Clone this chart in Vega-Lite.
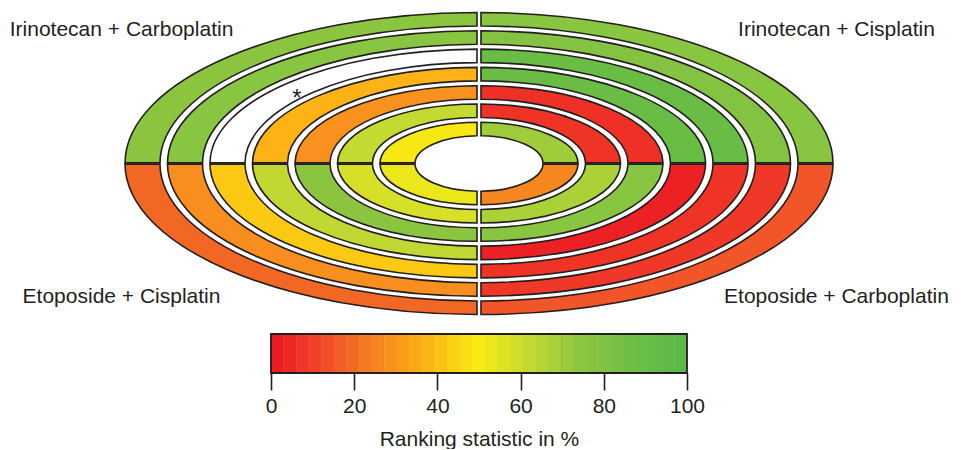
{
  "$schema": "https://vega.github.io/schema/vega-lite/v6.json",
  "padding": 0,
  "background": "white",
  "config": {"view": {"stroke": null}, "font": "Liberation Sans"},
  "datasets": {
    "seg": [
      {"regimen": "Irinotecan + Carboplatin", "ring": 1, "rank": 76},
      {"regimen": "Irinotecan + Carboplatin", "ring": 2, "rank": 77},
      {"regimen": "Irinotecan + Carboplatin", "ring": 3, "rank": null, "note": "*"},
      {"regimen": "Irinotecan + Carboplatin", "ring": 4, "rank": 37},
      {"regimen": "Irinotecan + Carboplatin", "ring": 5, "rank": 28},
      {"regimen": "Irinotecan + Carboplatin", "ring": 6, "rank": 62},
      {"regimen": "Irinotecan + Carboplatin", "ring": 7, "rank": 49},
      {"regimen": "Irinotecan + Cisplatin", "ring": 1, "rank": 77},
      {"regimen": "Irinotecan + Cisplatin", "ring": 2, "rank": 79},
      {"regimen": "Irinotecan + Cisplatin", "ring": 3, "rank": 91},
      {"regimen": "Irinotecan + Cisplatin", "ring": 4, "rank": 91},
      {"regimen": "Irinotecan + Cisplatin", "ring": 5, "rank": 5},
      {"regimen": "Irinotecan + Cisplatin", "ring": 6, "rank": 6},
      {"regimen": "Irinotecan + Cisplatin", "ring": 7, "rank": 71},
      {"regimen": "Etoposide + Cisplatin", "ring": 1, "rank": 18},
      {"regimen": "Etoposide + Cisplatin", "ring": 2, "rank": 27},
      {"regimen": "Etoposide + Cisplatin", "ring": 3, "rank": 42},
      {"regimen": "Etoposide + Cisplatin", "ring": 4, "rank": 63},
      {"regimen": "Etoposide + Cisplatin", "ring": 5, "rank": 76},
      {"regimen": "Etoposide + Cisplatin", "ring": 6, "rank": 58},
      {"regimen": "Etoposide + Cisplatin", "ring": 7, "rank": 53},
      {"regimen": "Etoposide + Carboplatin", "ring": 1, "rank": 14},
      {"regimen": "Etoposide + Carboplatin", "ring": 2, "rank": 7},
      {"regimen": "Etoposide + Carboplatin", "ring": 3, "rank": 6},
      {"regimen": "Etoposide + Carboplatin", "ring": 4, "rank": 1},
      {"regimen": "Etoposide + Carboplatin", "ring": 5, "rank": 77},
      {"regimen": "Etoposide + Carboplatin", "ring": 6, "rank": 68},
      {"regimen": "Etoposide + Carboplatin", "ring": 7, "rank": 25}
    ],
    "regimens": [
      {"regimen": "Irinotecan + Carboplatin", "side": "left", "half": "top"},
      {"regimen": "Irinotecan + Cisplatin", "side": "right", "half": "top"},
      {"regimen": "Etoposide + Cisplatin", "side": "left", "half": "bottom"},
      {"regimen": "Etoposide + Carboplatin", "side": "right", "half": "bottom"}
    ],
    "bands": [
      {"lo": 0, "hi": 3.0303, "v": 0},
      {"lo": 3.0303, "hi": 6.0606, "v": 3.125},
      {"lo": 6.0606, "hi": 9.0909, "v": 6.25},
      {"lo": 9.0909, "hi": 12.1212, "v": 9.375},
      {"lo": 12.1212, "hi": 15.1515, "v": 12.5},
      {"lo": 15.1515, "hi": 18.1818, "v": 15.625},
      {"lo": 18.1818, "hi": 21.2121, "v": 18.75},
      {"lo": 21.2121, "hi": 24.2424, "v": 21.875},
      {"lo": 24.2424, "hi": 27.2727, "v": 25},
      {"lo": 27.2727, "hi": 30.303, "v": 28.125},
      {"lo": 30.303, "hi": 33.3333, "v": 31.25},
      {"lo": 33.3333, "hi": 36.3636, "v": 34.375},
      {"lo": 36.3636, "hi": 39.3939, "v": 37.5},
      {"lo": 39.3939, "hi": 42.4242, "v": 40.625},
      {"lo": 42.4242, "hi": 45.4545, "v": 43.75},
      {"lo": 45.4545, "hi": 48.4848, "v": 46.875},
      {"lo": 48.4848, "hi": 51.5152, "v": 50},
      {"lo": 51.5152, "hi": 54.5455, "v": 53.125},
      {"lo": 54.5455, "hi": 57.5758, "v": 56.25},
      {"lo": 57.5758, "hi": 60.6061, "v": 59.375},
      {"lo": 60.6061, "hi": 63.6364, "v": 62.5},
      {"lo": 63.6364, "hi": 66.6667, "v": 65.625},
      {"lo": 66.6667, "hi": 69.697, "v": 68.75},
      {"lo": 69.697, "hi": 72.7273, "v": 71.875},
      {"lo": 72.7273, "hi": 75.7576, "v": 75},
      {"lo": 75.7576, "hi": 78.7879, "v": 78.125},
      {"lo": 78.7879, "hi": 81.8182, "v": 81.25},
      {"lo": 81.8182, "hi": 84.8485, "v": 84.375},
      {"lo": 84.8485, "hi": 87.8788, "v": 87.5},
      {"lo": 87.8788, "hi": 90.9091, "v": 90.625},
      {"lo": 90.9091, "hi": 93.9394, "v": 93.75},
      {"lo": 93.9394, "hi": 96.9697, "v": 96.875},
      {"lo": 96.9697, "hi": 100, "v": 100}
    ]
  },
  "vconcat": [
    {
      "width": 958,
      "height": 327,
      "data": {"name": "seg"},
      "layer": [
        {
          "transform": [{"filter": "datum.regimen === 'Irinotecan + Carboplatin' && isValid(datum.rank)"}],
          "mark": {"type": "point", "filled": true, "size": 4, "opacity": 1, "stroke": "#231F20", "strokeWidth": 1.6},
          "encoding": {
            "shape": {"field": "ring", "type": "nominal", "legend": null, "scale": {"domain": [1, 2, 3, 4, 5, 6, 7], "range": [
              "M-319,-0.6 L-354,-0.6 A354,151 0 0 1 -2,-151 L-2,-137.5 A319,137.5 0 0 0 -319,-0.6 Z",
              "M-276.5,-0.6 L-311.5,-0.6 A311.5,132.7 0 0 1 -2,-132.7 L-2,-119.2 A276.5,119.2 0 0 0 -276.5,-0.6 Z",
              "M-234,-0.6 L-269,-0.6 A269,114.4 0 0 1 -2,-114.4 L-2,-100.9 A234,100.9 0 0 0 -234,-0.6 Z",
              "M-191.5,-0.6 L-226.5,-0.6 A226.5,96.1 0 0 1 -2,-96.1 L-2,-82.6 A191.5,82.6 0 0 0 -191.5,-0.6 Z",
              "M-149,-0.6 L-184,-0.6 A184,77.8 0 0 1 -2,-77.8 L-2,-64.3 A149,64.3 0 0 0 -149,-0.6 Z",
              "M-106.5,-0.6 L-141.5,-0.6 A141.5,59.5 0 0 1 -2,-59.5 L-2,-46 A106.5,46 0 0 0 -106.5,-0.6 Z",
              "M-64,-0.6 L-99,-0.6 A99,41.2 0 0 1 -2,-41.2 L-2,-27.7 A64,27.7 0 0 0 -64,-0.6 Z"
            ]}},
            "color": {"field": "rank", "type": "quantitative", "legend": null, "scale": {"type": "linear", "domain": [0, 12.5, 25, 37.5, 50, 62.5, 75, 87.5, 100], "range": ["#ED1C24", "#F14E29", "#F6861F", "#FDB515", "#F7EC13", "#C3D932", "#8DC63F", "#6FBE44", "#5BB947"], "interpolate": "rgb"}}
          }
        },
        {
          "transform": [{"filter": "datum.regimen === 'Irinotecan + Carboplatin' && !isValid(datum.rank)"}],
          "mark": {"type": "point", "filled": true, "fill": "white", "size": 4, "opacity": 1, "stroke": "#231F20", "strokeWidth": 1.6},
          "encoding": {
            "shape": {"field": "ring", "type": "nominal", "legend": null, "scale": {"domain": [1, 2, 3, 4, 5, 6, 7], "range": [
              "M-319,-0.6 L-354,-0.6 A354,151 0 0 1 -2,-151 L-2,-137.5 A319,137.5 0 0 0 -319,-0.6 Z",
              "M-276.5,-0.6 L-311.5,-0.6 A311.5,132.7 0 0 1 -2,-132.7 L-2,-119.2 A276.5,119.2 0 0 0 -276.5,-0.6 Z",
              "M-234,-0.6 L-269,-0.6 A269,114.4 0 0 1 -2,-114.4 L-2,-100.9 A234,100.9 0 0 0 -234,-0.6 Z",
              "M-191.5,-0.6 L-226.5,-0.6 A226.5,96.1 0 0 1 -2,-96.1 L-2,-82.6 A191.5,82.6 0 0 0 -191.5,-0.6 Z",
              "M-149,-0.6 L-184,-0.6 A184,77.8 0 0 1 -2,-77.8 L-2,-64.3 A149,64.3 0 0 0 -149,-0.6 Z",
              "M-106.5,-0.6 L-141.5,-0.6 A141.5,59.5 0 0 1 -2,-59.5 L-2,-46 A106.5,46 0 0 0 -106.5,-0.6 Z",
              "M-64,-0.6 L-99,-0.6 A99,41.2 0 0 1 -2,-41.2 L-2,-27.7 A64,27.7 0 0 0 -64,-0.6 Z"
            ]}}
          }
        },
        {
          "transform": [{"filter": "datum.regimen === 'Irinotecan + Cisplatin' && isValid(datum.rank)"}],
          "mark": {"type": "point", "filled": true, "size": 4, "opacity": 1, "stroke": "#231F20", "strokeWidth": 1.6},
          "encoding": {
            "shape": {"field": "ring", "type": "nominal", "legend": null, "scale": {"domain": [1, 2, 3, 4, 5, 6, 7], "range": [
              "M319,-0.6 L354,-0.6 A354,151 0 0 0 2,-151 L2,-137.5 A319,137.5 0 0 1 319,-0.6 Z",
              "M276.5,-0.6 L311.5,-0.6 A311.5,132.7 0 0 0 2,-132.7 L2,-119.2 A276.5,119.2 0 0 1 276.5,-0.6 Z",
              "M234,-0.6 L269,-0.6 A269,114.4 0 0 0 2,-114.4 L2,-100.9 A234,100.9 0 0 1 234,-0.6 Z",
              "M191.5,-0.6 L226.5,-0.6 A226.5,96.1 0 0 0 2,-96.1 L2,-82.6 A191.5,82.6 0 0 1 191.5,-0.6 Z",
              "M149,-0.6 L184,-0.6 A184,77.8 0 0 0 2,-77.8 L2,-64.3 A149,64.3 0 0 1 149,-0.6 Z",
              "M106.5,-0.6 L141.5,-0.6 A141.5,59.5 0 0 0 2,-59.5 L2,-46 A106.5,46 0 0 1 106.5,-0.6 Z",
              "M64,-0.6 L99,-0.6 A99,41.2 0 0 0 2,-41.2 L2,-27.7 A64,27.7 0 0 1 64,-0.6 Z"
            ]}},
            "color": {"field": "rank", "type": "quantitative", "legend": null, "scale": {"type": "linear", "domain": [0, 12.5, 25, 37.5, 50, 62.5, 75, 87.5, 100], "range": ["#ED1C24", "#F14E29", "#F6861F", "#FDB515", "#F7EC13", "#C3D932", "#8DC63F", "#6FBE44", "#5BB947"], "interpolate": "rgb"}}
          }
        },
        {
          "transform": [{"filter": "datum.regimen === 'Etoposide + Cisplatin' && isValid(datum.rank)"}],
          "mark": {"type": "point", "filled": true, "size": 4, "opacity": 1, "stroke": "#231F20", "strokeWidth": 1.6},
          "encoding": {
            "shape": {"field": "ring", "type": "nominal", "legend": null, "scale": {"domain": [1, 2, 3, 4, 5, 6, 7], "range": [
              "M-319,0.6 L-354,0.6 A354,151 0 0 0 -2,151 L-2,137.5 A319,137.5 0 0 1 -319,0.6 Z",
              "M-276.5,0.6 L-311.5,0.6 A311.5,132.7 0 0 0 -2,132.7 L-2,119.2 A276.5,119.2 0 0 1 -276.5,0.6 Z",
              "M-234,0.6 L-269,0.6 A269,114.4 0 0 0 -2,114.4 L-2,100.9 A234,100.9 0 0 1 -234,0.6 Z",
              "M-191.5,0.6 L-226.5,0.6 A226.5,96.1 0 0 0 -2,96.1 L-2,82.6 A191.5,82.6 0 0 1 -191.5,0.6 Z",
              "M-149,0.6 L-184,0.6 A184,77.8 0 0 0 -2,77.8 L-2,64.3 A149,64.3 0 0 1 -149,0.6 Z",
              "M-106.5,0.6 L-141.5,0.6 A141.5,59.5 0 0 0 -2,59.5 L-2,46 A106.5,46 0 0 1 -106.5,0.6 Z",
              "M-64,0.6 L-99,0.6 A99,41.2 0 0 0 -2,41.2 L-2,27.7 A64,27.7 0 0 1 -64,0.6 Z"
            ]}},
            "color": {"field": "rank", "type": "quantitative", "legend": null, "scale": {"type": "linear", "domain": [0, 12.5, 25, 37.5, 50, 62.5, 75, 87.5, 100], "range": ["#ED1C24", "#F14E29", "#F6861F", "#FDB515", "#F7EC13", "#C3D932", "#8DC63F", "#6FBE44", "#5BB947"], "interpolate": "rgb"}}
          }
        },
        {
          "transform": [{"filter": "datum.regimen === 'Etoposide + Carboplatin' && isValid(datum.rank)"}],
          "mark": {"type": "point", "filled": true, "size": 4, "opacity": 1, "stroke": "#231F20", "strokeWidth": 1.6},
          "encoding": {
            "shape": {"field": "ring", "type": "nominal", "legend": null, "scale": {"domain": [1, 2, 3, 4, 5, 6, 7], "range": [
              "M319,0.6 L354,0.6 A354,151 0 0 1 2,151 L2,137.5 A319,137.5 0 0 0 319,0.6 Z",
              "M276.5,0.6 L311.5,0.6 A311.5,132.7 0 0 1 2,132.7 L2,119.2 A276.5,119.2 0 0 0 276.5,0.6 Z",
              "M234,0.6 L269,0.6 A269,114.4 0 0 1 2,114.4 L2,100.9 A234,100.9 0 0 0 234,0.6 Z",
              "M191.5,0.6 L226.5,0.6 A226.5,96.1 0 0 1 2,96.1 L2,82.6 A191.5,82.6 0 0 0 191.5,0.6 Z",
              "M149,0.6 L184,0.6 A184,77.8 0 0 1 2,77.8 L2,64.3 A149,64.3 0 0 0 149,0.6 Z",
              "M106.5,0.6 L141.5,0.6 A141.5,59.5 0 0 1 2,59.5 L2,46 A106.5,46 0 0 0 106.5,0.6 Z",
              "M64,0.6 L99,0.6 A99,41.2 0 0 1 2,41.2 L2,27.7 A64,27.7 0 0 0 64,0.6 Z"
            ]}},
            "color": {"field": "rank", "type": "quantitative", "legend": null, "scale": {"type": "linear", "domain": [0, 12.5, 25, 37.5, 50, 62.5, 75, 87.5, 100], "range": ["#ED1C24", "#F14E29", "#F6861F", "#FDB515", "#F7EC13", "#C3D932", "#8DC63F", "#6FBE44", "#5BB947"], "interpolate": "rgb"}}
          }
        },
        {
          "transform": [{"filter": "isValid(datum.note)"}],
          "mark": {"type": "text", "dx": -182, "dy": -57.7, "fontSize": 24, "color": "#231F20", "align": "center", "baseline": "alphabetic"},
          "encoding": {"text": {"field": "note"}}
        },
        {
          "data": {"name": "regimens"},
          "mark": {"type": "text", "fontSize": 21, "color": "#231F20", "align": "center", "baseline": "alphabetic", "dy": 5.75},
          "encoding": {
            "x": {"field": "side", "type": "nominal", "axis": null, "scale": {"type": "point", "domain": ["left", "right"], "padding": 0.17}},
            "y": {"field": "half", "type": "nominal", "axis": null, "scale": {"type": "point", "domain": ["top", "bottom"], "padding": 0.1135}},
            "text": {"field": "regimen"}
          }
        }
      ],
      "resolve": {"scale": {"shape": "independent"}}
    },
    {
      "width": 416,
      "height": 39,
      "layer": [
        {
          "data": {"name": "bands"},
          "mark": {"type": "rect", "strokeWidth": 0.6},
          "encoding": {
            "x": {"field": "lo", "type": "quantitative", "scale": {"domain": [0, 100], "nice": false, "zero": false},
              "axis": {"values": [0, 20, 40, 60, 80, 100], "format": "d", "title": "Ranking statistic in %", "labelFlush": false, "labelOverlap": false, "domain": false, "grid": false, "tickSize": 17, "tickWidth": 1.6, "tickColor": "#231F20", "labelFontSize": 21, "labelFont": "Liberation Sans", "labelColor": "#231F20", "labelPadding": 5, "titleFontSize": 21, "titleFont": "Liberation Sans", "titleFontWeight": "normal", "titleColor": "#231F20", "titlePadding": 12}},
            "x2": {"field": "hi"},
            "color": {"field": "v", "type": "quantitative", "legend": null, "scale": {"type": "linear", "domain": [0, 12.5, 25, 37.5, 50, 62.5, 75, 87.5, 100], "range": ["#ED1C24", "#F14E29", "#F6861F", "#FDB515", "#F7EC13", "#C3D932", "#8DC63F", "#6FBE44", "#5BB947"], "interpolate": "rgb"}},
            "stroke": {"field": "v", "type": "quantitative", "legend": null, "scale": {"type": "linear", "domain": [0, 12.5, 25, 37.5, 50, 62.5, 75, 87.5, 100], "range": ["#ED1C24", "#F14E29", "#F6861F", "#FDB515", "#F7EC13", "#C3D932", "#8DC63F", "#6FBE44", "#5BB947"], "interpolate": "rgb"}}
          }
        },
        {
          "data": {"values": [{}]},
          "mark": {"type": "rect", "filled": false, "stroke": "#231F20", "strokeWidth": 1.8},
          "encoding": {"x": {"datum": 0}, "x2": {"datum": 100}}
        }
      ]
    }
  ],
  "spacing": 7,
  "center": true,
  "bounds": "flush"
}
